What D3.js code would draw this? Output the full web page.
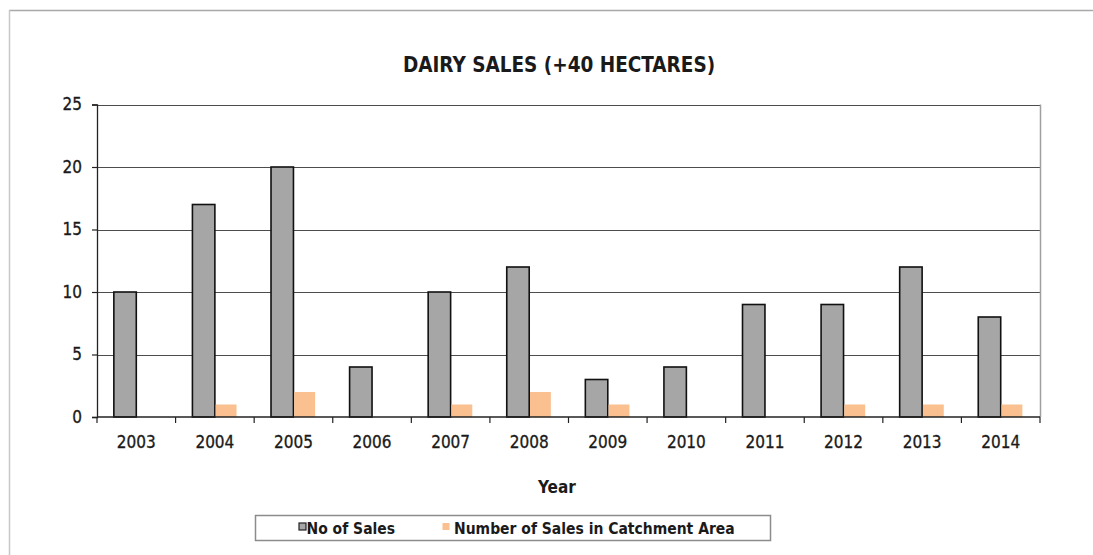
<!DOCTYPE html>
<html>
<head>
<meta charset="utf-8">
<script src="https://cdn.jsdelivr.net/npm/d3@7/dist/d3.min.js"></script>
<style>
  html, body { margin: 0; padding: 0; background: #fff; }
  svg { display: block; }
  text { font-family: "DejaVu Sans Condensed", "DejaVu Sans", sans-serif; fill: #1a1a1a; }
  .lbl { stroke: #1a1a1a; stroke-width: 0.3px; }
</style>
</head>
<body>
<svg id="chart" width="1093" height="555"></svg>
<script>
// Dairy sales of farms over 40 hectares, per year
const years = ["2003","2004","2005","2006","2007","2008","2009","2010","2011","2012","2013","2014"];
const salesTotal = [10, 17, 20, 4, 10, 12, 3, 4, 9, 9, 12, 8];
const salesCatchment = [0, 1, 2, 0, 1, 2, 1, 0, 0, 1, 1, 1];
const seriesNames = ["No of Sales", "Number of Sales in Catchment Area"];
const yTicks = [0, 5, 10, 15, 20, 25];

const colors = { total: "#a6a6a6", catchment: "#fac08f" };

const svg = d3.select("#chart");
const plot = { left: 97, right: 1040, top: 104.5, bottom: 417 };

// outer chart frame (top and left edges visible)
svg.append("line").attr("x1", 9).attr("x2", 1093).attr("y1", 10.5).attr("y2", 10.5)
  .attr("stroke", "#a9a9a9").attr("stroke-width", 1.5);
svg.append("line").attr("x1", 9.5).attr("x2", 9.5).attr("y1", 10).attr("y2", 555)
  .attr("stroke", "#c8c8c8").attr("stroke-width", 1.5);

const x = d3.scaleBand().domain(years).range([plot.left, plot.right]).paddingInner(0).paddingOuter(0);
const inner = d3.scaleBand().domain(["total", "catchment"]).range([0, x.bandwidth()]).paddingOuter(0.75).paddingInner(0);
const y = d3.scaleLinear().domain([0, 25]).range([plot.bottom, plot.top]);

// gridlines
svg.append("g").selectAll("line").data(yTicks.filter(d => d > 0)).join("line")
  .attr("x1", plot.left).attr("x2", plot.right)
  .attr("y1", d => Math.round(y(d)) + 0.5).attr("y2", d => Math.round(y(d)) + 0.5)
  .attr("stroke", "#4d4d4d").attr("stroke-width", 1.2);

// plot area right edge
svg.append("line").attr("x1", plot.right + 0.5).attr("x2", plot.right + 0.5)
  .attr("y1", plot.top).attr("y2", plot.bottom)
  .attr("stroke", "#a0a0a0").attr("stroke-width", 1.5);

// bars
const groups = svg.append("g").selectAll("g").data(years).join("g")
  .attr("transform", d => `translate(${x(d)},0)`);

groups.append("rect")
  .attr("x", inner("total"))
  .attr("width", inner.bandwidth())
  .attr("y", (d, i) => y(salesTotal[i]))
  .attr("height", (d, i) => y(0) - y(salesTotal[i]))
  .attr("fill", colors.total)
  .attr("stroke", "#111").attr("stroke-width", 1.6);

groups.filter((d, i) => salesCatchment[i] > 0).append("rect")
  .attr("x", inner("catchment") + 0.8)
  .attr("width", inner.bandwidth() - 1.6)
  .attr("y", d => y(salesCatchment[years.indexOf(d)]))
  .attr("height", d => y(0) - y(salesCatchment[years.indexOf(d)]))
  .attr("fill", colors.catchment);

// y axis
const yAxis = d3.axisLeft(y).tickValues(yTicks).tickSize(5).tickPadding(10);
const gy = svg.append("g").attr("transform", `translate(${plot.left},0)`).call(yAxis);
gy.select(".domain").attr("stroke", "#222").attr("stroke-width", 1.3);
gy.selectAll(".tick line").attr("stroke", "#222").attr("stroke-width", 1.2);
gy.selectAll(".tick text").attr("class", "lbl").attr("font-size", 17).attr("fill", "#1a1a1a")
  .attr("font-family", "'DejaVu Sans Condensed', 'DejaVu Sans', sans-serif");

// x axis with ticks at category boundaries
svg.append("line").attr("x1", plot.left).attr("x2", plot.right)
  .attr("y1", plot.bottom).attr("y2", plot.bottom)
  .attr("stroke", "#222").attr("stroke-width", 1.4);
const boundaries = years.map(d => x(d)).concat([plot.right]);
svg.append("g").selectAll("line").data(boundaries).join("line")
  .attr("x1", d => d).attr("x2", d => d)
  .attr("y1", plot.bottom).attr("y2", plot.bottom + 6)
  .attr("stroke", "#222").attr("stroke-width", 1.2);
svg.append("g").selectAll("text").data(years).join("text")
  .attr("class", "lbl")
  .attr("x", d => x(d) + x.bandwidth() / 2)
  .attr("y", 447.5)
  .attr("text-anchor", "middle")
  .attr("font-size", 17)
  .text(d => d);

// title and axis title
svg.append("text").attr("x", 559).attr("y", 71.5).attr("text-anchor", "middle")
  .attr("font-size", 20.5).attr("font-weight", "bold").text("DAIRY SALES (+40 HECTARES)");
svg.append("text").attr("x", 557).attr("y", 492.5).attr("text-anchor", "middle")
  .attr("font-size", 17).attr("font-weight", "bold").text("Year");

// legend
const legend = svg.append("g");
legend.append("rect").attr("x", 255.5).attr("y", 515.5).attr("width", 515).attr("height", 25)
  .attr("fill", "#fff").attr("stroke", "#8c8c8c").attr("stroke-width", 1.5);
const legendItems = [
  { name: seriesNames[0], color: colors.total, stroke: "#222", sx: 299, tx: 306.5 },
  { name: seriesNames[1], color: colors.catchment, stroke: "none", sx: 442.5, tx: 454 }
];
legend.selectAll("rect.sw").data(legendItems).join("rect").attr("class", "sw")
  .attr("x", d => d.sx).attr("y", 523).attr("width", 7).attr("height", 7)
  .attr("fill", d => d.color).attr("stroke", d => d.stroke).attr("stroke-width", 1.2);
legend.selectAll("text.lg").data(legendItems).join("text").attr("class", "lg")
  .attr("x", d => d.tx).attr("y", 533.5)
  .attr("font-size", 15.5).attr("font-weight", "bold")
  .text(d => d.name);
</script>
</body>
</html>
